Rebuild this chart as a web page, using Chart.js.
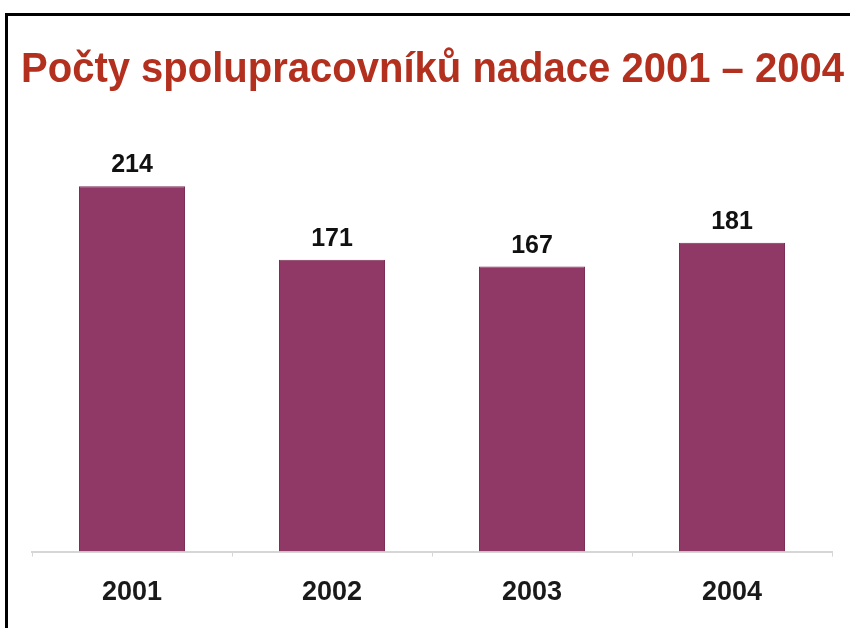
<!DOCTYPE html>
<html>
<head>
<meta charset="utf-8">
<script src="https://cdn.jsdelivr.net/npm/chart.js@4/dist/chart.umd.min.js"></script>
<style>
  html, body { margin: 0; padding: 0; background: #fff; overflow: hidden; }
  #wrap { position: relative; width: 850px; height: 628px; }
  #frame {
    position: absolute; left: 5px; top: 13px; width: 900px; height: 700px;
    border: 3px solid #000; box-sizing: border-box; pointer-events: none;
  }
  canvas { position: absolute; left: 0; top: 0; }
</style>
</head>
<body>
<div id="wrap">
  <canvas id="chart" width="850" height="628"></canvas>
  <div id="frame"></div>
</div>
<script>
// data
const years = ["2001", "2002", "2003", "2004"];
const pocty = [214, 171, 167, 181];
const titleText = "Počty spolupracovníků nadace 2001 – 2004";

const FONT = "'Liberation Sans', Arial, sans-serif";

// nadpis - trochu zuzene pismo jako v predloze
const titlePlugin = {
  id: "titlePlugin",
  afterDraw(chart) {
    const ctx = chart.ctx;
    ctx.save();
    ctx.font = "bold 42px " + FONT;
    ctx.fillStyle = "#b3301f";
    ctx.textBaseline = "alphabetic";
    const w = ctx.measureText(titleText).width;
    const target = 823;
    ctx.translate(21, 82);
    ctx.scale(target / w, 1);
    ctx.fillText(titleText, 0, 0);
    ctx.restore();
  },
};

// popisky hodnot nad sloupci
const valueLabels = {
  id: "valueLabels",
  afterDatasetsDraw(chart) {
    const ctx = chart.ctx;
    const meta = chart.getDatasetMeta(0);
    ctx.save();
    ctx.font = "bold 25px " + FONT;
    ctx.fillStyle = "#111";
    ctx.textAlign = "center";
    ctx.textBaseline = "alphabetic";
    meta.data.forEach((bar, i) => {
      ctx.fillText(String(pocty[i]), bar.x, bar.y - 14);
    });
    ctx.restore();
  },
};

const ctx = document.getElementById("chart").getContext("2d");
new Chart(ctx, {
  type: "bar",
  data: {
    labels: years,
    datasets: [
      {
        data: pocty,
        backgroundColor: "#913966",
        borderColor: "#7c2e57",
        borderWidth: 1,
        barPercentage: 0.53,
        categoryPercentage: 1,
      },
    ],
  },
  options: {
    responsive: false,
    animation: false,
    layout: { padding: { left: 32, right: 18, top: 142, bottom: -1 } },
    plugins: {
      legend: { display: false },
      tooltip: { enabled: false },
      title: { display: false },
    },
    scales: {
      x: {
        offset: true,
        grid: {
          offset: true,
          drawOnChartArea: false,
          drawTicks: true,
          tickLength: 5,
          color: "#d6d6d6",
        },
        border: { display: true, color: "#d6d6d6", width: 2 },
        ticks: {
          color: "#1a1a1a",
          padding: 20,
          font: { family: FONT, size: 27, weight: "bold" },
        },
      },
      y: {
        display: false,
        min: 0,
        max: 240,
      },
    },
  },
  plugins: [valueLabels, titlePlugin],
});
</script>
</body>
</html>
